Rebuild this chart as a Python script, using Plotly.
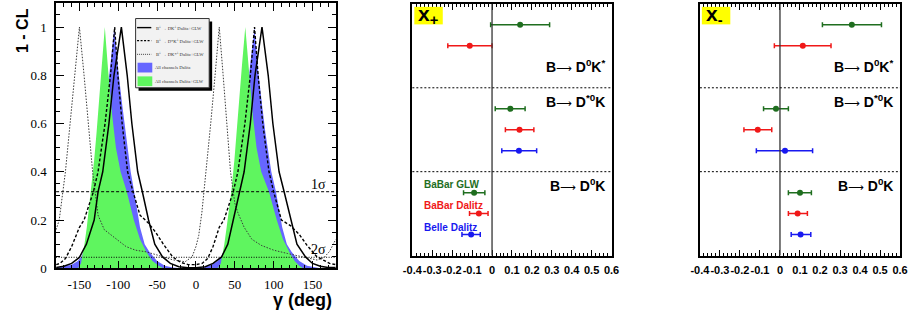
import plotly.graph_objects as go

W, H = 913, 326

# ---------------- left panel: 1-CL vs gamma ----------------
g_dk = [-180, -170, -160, -150, -141, -131, -126, -120, -112, -105.5, -96, -88.5, -82.5, -75, -69, -61, -53, -43, -33, -22, -10,
        0, 12, 22, 33, 41, 48, 56, 62, 70, 76, 85, 93, 99, 107, 113.5, 122, 130, 141, 150, 160, 170, 180]
cl_dk = [0.003, 0.008, 0.02, 0.045, 0.1, 0.2, 0.317, 0.4, 0.6, 0.8, 1.0, 0.8, 0.6, 0.4, 0.317, 0.2, 0.1, 0.047, 0.02, 0.006, 0.002,
         0.002, 0.006, 0.02, 0.047, 0.1, 0.2, 0.317, 0.4, 0.6, 0.8, 1.0, 0.8, 0.6, 0.4, 0.317, 0.2, 0.1, 0.047, 0.02, 0.008, 0.003, 0.003]

g_dsk = [-180, -175, -168, -160, -150, -144, -132, -126, -117, -110, -104.6, -100.5, -95, -88, -81, -72, -62, -52, -42, -30, -20, -10,
         0, 8, 15, 22, 30, 36, 48, 54, 63, 70, 75.4, 80, 86, 94, 100, 110, 122, 133, 143, 155, 164, 172, 180]
cl_dsk = [0.015, 0.02, 0.04, 0.09, 0.17, 0.2, 0.317, 0.4, 0.6, 0.8, 1.0, 0.8, 0.6, 0.4, 0.317, 0.22, 0.19, 0.15, 0.1, 0.047, 0.025, 0.015,
          0.015, 0.02, 0.04, 0.09, 0.17, 0.2, 0.317, 0.4, 0.6, 0.8, 1.0, 0.8, 0.6, 0.4, 0.317, 0.2, 0.176, 0.14, 0.095, 0.05, 0.034, 0.02, 0.015]

g_dks = [-180, -176, -172, -168, -162, -156, -150, -144, -138.5, -133, -126, -118, -110, -102, -90, -78, -64, -50, -43, -30, -14,
         -5, 0, 3.5, 7.6, 13, 19, 24.6, 30, 35, 39.4, 44.5, 50, 54, 62, 72, 84, 100, 118, 135, 156, 165, 172, 180]
cl_dks = [0.16, 0.2, 0.3, 0.4, 0.6, 0.8, 1.0, 0.8, 0.6, 0.4, 0.22, 0.16, 0.14, 0.12, 0.09, 0.075, 0.068, 0.055, 0.047, 0.035, 0.027,
          0.047, 0.09, 0.135, 0.23, 0.4, 0.6, 0.8, 1.0, 0.8, 0.6, 0.4, 0.27, 0.23, 0.17, 0.12, 0.095, 0.075, 0.061, 0.048, 0.034, 0.045, 0.07, 0.12]

g_all_dalitz = [-180, -170, -160, -152, -147, -141, -133, -125, -117, -111, -105, -100, -95, -90.5, -84, -79.5, -72, -66, -60, -50, -40, -30, -20,
                5, 10, 20, 28, 33, 39, 47, 55, 63, 69, 75.4, 80, 85, 89.5, 97, 103, 111, 117, 123, 133, 143, 152, 160, 180]
cl_all_dalitz = [0.003, 0.008, 0.015, 0.03, 0.05, 0.1, 0.25, 0.45, 0.65, 0.82, 1.0, 0.82, 0.68, 0.56, 0.4, 0.317, 0.17, 0.1, 0.068, 0.03, 0.01, 0.003, 0.0,
                 0.0, 0.003, 0.015, 0.03, 0.05, 0.1, 0.25, 0.45, 0.65, 0.82, 1.0, 0.82, 0.68, 0.56, 0.4, 0.317, 0.17, 0.1, 0.068, 0.03, 0.01, 0.003, 0.0, 0.0]

g_all_glw = [-180, -152, -148, -146, -143.5, -140.5, -135, -131, -128, -124.5, -120.7, -117.3, -113, -108, -103, -97, -89, -80, -72, -64, -56, -48, -42,
             28, 32, 34, 36.5, 39.5, 45.5, 49.5, 52, 55.5, 59.3, 63.5, 68, 73, 78, 84, 94, 104, 112, 120, 127, 133, 138, 180]
cl_all_glw = [0.0, 0.0, 0.02, 0.05, 0.1, 0.17, 0.317, 0.45, 0.56, 0.71, 0.845, 1.0, 0.82, 0.64, 0.5, 0.4, 0.317, 0.2, 0.12, 0.068, 0.03, 0.01, 0.0,
              0.0, 0.02, 0.05, 0.1, 0.17, 0.317, 0.45, 0.56, 0.71, 0.845, 1.0, 0.82, 0.64, 0.5, 0.4, 0.317, 0.2, 0.12, 0.068, 0.03, 0.01, 0.0, 0.0]

sigma_levels = [0.3173, 0.0455]
sigma_labels = ["1σ", "2σ"]
gamma_ticks = [-150, -100, -50, 0, 50, 100, 150]
gamma_ticktext = ["-150", "-100", "-50", "0", "50", "100", "150"]

legend_names = ["B<sup>±</sup> → DK<sup>±</sup> Dalitz+GLW", "B<sup>±</sup> → D*K<sup>±</sup> Dalitz+GLW",
                "B<sup>±</sup> → DK*<sup>±</sup> Dalitz+GLW", "All channels Dalitz", "All channels Dalitz+GLW"]

# ---------------- x+ / x- panels ----------------
ARROW = "<span style=\"font-family:'DejaVu Sans';font-weight:normal;font-size:11px\">⟶</span>"
channels = ["B" + ARROW + " D<sup>0</sup>K", "B" + ARROW + " D<sup>*0</sup>K",
            "B" + ARROW + " D<sup>0</sup>K<sup>*</sup>"]  # bottom to top
experiments = ["BaBar GLW", "BaBar Dalitz", "Belle Dalitz"]
exp_colors = ["#1f6e1f", "#f01818", "#1818f0"]

# values per experiment, ordered by channel [D0K, D*0K, D0K*]
xp_val = [[-0.090, 0.092, 0.141], [-0.066, 0.138, -0.112], [-0.105, 0.135, None]]
xp_em = [[0.053, 0.076, 0.148], [0.047, 0.071, 0.110], [0.046, 0.086, None]]
xp_ep = [[0.054, 0.074, 0.148], [0.046, 0.072, 0.112], [0.046, 0.089, None]]

xm_val = [[0.100, -0.020, 0.359], [0.088, -0.111, 0.114], [0.103, 0.025, None]]
xm_em = [[0.058, 0.062, 0.147], [0.046, 0.069, 0.142], [0.047, 0.143, None]]
xm_ep = [[0.057, 0.062, 0.148], [0.049, 0.070, 0.141], [0.051, 0.138, None]]

x_ticks = [-0.4, -0.3, -0.2, -0.1, 0, 0.1, 0.2, 0.3, 0.4, 0.5, 0.6]
x_ticktext = ["-0.4", "-0.3", "-0.2", "-0.1", "0", "0.1", "0.2", "0.3", "0.4", "0.5", "0.6"]

SERIF = "Liberation Serif"
SANS = "Liberation Sans"


def px(x):
    return x / W


def py(y):
    return 1 - y / H


fig = go.Figure()

# fills
fig.add_trace(go.Scatter(x=g_all_dalitz, y=cl_all_dalitz, mode="lines", fill="tozeroy",
                         fillcolor="#6666ff", line=dict(width=0, color="#6666ff"),
                         xaxis="x", yaxis="y", showlegend=False, hoverinfo="skip"))
fig.add_trace(go.Scatter(x=g_all_glw, y=cl_all_glw, mode="lines", fill="tozeroy",
                         fillcolor="#5ff55f", line=dict(width=0, color="#5ff55f"),
                         xaxis="x", yaxis="y", showlegend=False, hoverinfo="skip"))
# curves
fig.add_trace(go.Scatter(x=g_dks, y=cl_dks, mode="lines", line=dict(width=1, color="#3a3a3a", dash="1.5px,1.5px"),
                         xaxis="x", yaxis="y", showlegend=False, hoverinfo="skip"))
fig.add_trace(go.Scatter(x=g_dsk, y=cl_dsk, mode="lines", line=dict(width=1.4, color="black", dash="3px,2px"),
                         xaxis="x", yaxis="y", showlegend=False, hoverinfo="skip"))
fig.add_trace(go.Scatter(x=g_dk, y=cl_dk, mode="lines", line=dict(width=1.5, color="black"),
                         xaxis="x", yaxis="y", showlegend=False, hoverinfo="skip"))

# error-bar panels
panels = [("x2", "y2", xp_val, xp_em, xp_ep), ("x3", "y3", xm_val, xm_em, xm_ep)]
for xa, ya, vals, ems, eps in panels:
    for ei, name in enumerate(experiments):
        xs, ys, em, ep = [], [], [], []
        for ci in range(len(channels)):
            v = vals[ei][ci]
            if v is None:
                continue
            xs.append(v)
            ys.append(4 * ci + 3 - ei)
            em.append(ems[ei][ci])
            ep.append(eps[ei][ci])
        fig.add_trace(go.Scatter(
            x=xs, y=ys, mode="markers", xaxis=xa, yaxis=ya, showlegend=False,
            marker=dict(symbol="circle", size=6, color=exp_colors[ei]),
            error_x=dict(type="data", symmetric=False, array=ep, arrayminus=em,
                         color=exp_colors[ei], thickness=1.5, width=2.5)))

shapes = []
annotations = []

# sigma lines
for lvl, dash in zip(sigma_levels, ["3px,2px", "1px,1.5px"]):
    shapes.append(dict(type="line", xref="x domain", yref="y", x0=0, x1=1, y0=lvl, y1=lvl,
                       line=dict(color="black", width=1, dash=dash)))
for lvl, lab in zip(sigma_levels, sigma_labels):
    annotations.append(dict(xref="x", yref="y", x=146, y=lvl, text=lab, showarrow=False,
                            xanchor="left", yanchor="bottom", yshift=-2,
                            font=dict(family=SERIF, size=14, color="black")))

# left legend (manual)
shapes.append(dict(type="rect", xref="paper", yref="paper", x0=px(132), x1=px(207), y0=py(93), y1=py(22),
                   fillcolor="black", line=dict(width=0), layer="above"))
shapes.append(dict(type="rect", xref="paper", yref="paper", x0=px(129), x1=px(204), y0=py(90), y1=py(19),
                   fillcolor="#f2f2f2", line=dict(width=1, color="#333333"), layer="above"))
row_y = [28.3, 41.7, 55.7, 69.3, 83.3]
line_styles = [dict(color="black", width=1.4), dict(color="black", width=1.2, dash="2px,1.5px"),
               dict(color="#444444", width=1, dash="1px,1px")]
for i in range(3):
    shapes.append(dict(type="line", xref="paper", yref="paper", x0=px(130.5), x1=px(145), y0=py(row_y[i]), y1=py(row_y[i]),
                       line=line_styles[i], layer="above"))
for i, col in zip([3, 4], ["#6666ff", "#5ff55f"]):
    shapes.append(dict(type="rect", xref="paper", yref="paper", x0=px(131), x1=px(146), y0=py(row_y[i] + 5), y1=py(row_y[i] - 5),
                       fillcolor=col, line=dict(width=0), layer="above"))
for i, name in enumerate(legend_names):
    annotations.append(dict(xref="paper", yref="paper", x=px(148 if i < 3 else 147), y=py(row_y[i]), text=name,
                            showarrow=False, xanchor="left", yanchor="middle",
                            font=dict(family=SERIF, size=4.6, color="#333333")))

# axis titles (left)
annotations.append(dict(xref="paper", yref="paper", x=px(13), y=py(31), text="<b>1 - CL</b>", textangle=-90,
                        showarrow=False, xanchor="center", yanchor="middle",
                        font=dict(family=SANS, size=16, color="black")))
annotations.append(dict(xref="paper", yref="paper", x=px(331), y=py(320), text="<b>γ (deg)</b>",
                        showarrow=False, xanchor="right", yanchor="bottom",
                        font=dict(family=SANS, size=18, color="black")))

# x+/x- panel decorations
for xa, ya, box_x0, lab in [("x2", "y2", 413, "x<sub>+</sub>"), ("x3", "y3", 706, "x<sub>-</sub>")]:
    shapes.append(dict(type="line", xref=xa, yref=ya + " domain", x0=0, x1=0, y0=0, y1=1,
                       line=dict(color="#333333", width=1.3)))
    for yl in [4, 8]:
        shapes.append(dict(type="line", xref=xa + " domain", yref=ya, x0=0, x1=1, y0=yl, y1=yl,
                           line=dict(color="black", width=1, dash="2px,2px")))
    shapes.append(dict(type="rect", xref="paper", yref="paper", x0=px(box_x0), x1=px(box_x0 + 29),
                       y0=py(25), y1=py(7), fillcolor="#ffff00", line=dict(width=0)))
    annotations.append(dict(xref="paper", yref="paper", x=px(box_x0 + 2), y=py(15), text="<b>" + lab + "</b>",
                            showarrow=False, xanchor="left", yanchor="middle",
                            font=dict(family=SANS, size=21, color="black")))
    for ci, ch in enumerate(channels):
        ypos = [3.35, 7.38, 9.02][ci]
        annotations.append(dict(xref=xa, yref=ya, x=0.575, y=ypos, text="<b>" + ch + "</b>",
                                showarrow=False, xanchor="right", yanchor="middle",
                                font=dict(family=SANS, size=14, color="black")))

# experiment legend (middle panel)
for ei, name in enumerate(experiments):
    annotations.append(dict(xref="x2", yref="y2", x=-0.35, y=3.4 - ei * 1.02, text="<b>" + name + "</b>",
                            showarrow=False, xanchor="left", yanchor="middle",
                            font=dict(family=SANS, size=10, color=exp_colors[ei])))

common_frame = dict(showline=True, linecolor="black", showgrid=False, zeroline=False)

fig.update_layout(
    width=W, height=H, autosize=False,
    margin=dict(l=0, r=0, t=0, b=0),
    paper_bgcolor="white", plot_bgcolor="white",
    showlegend=False,
    xaxis=dict(domain=[px(48), px(333)], range=[-180, 180], anchor="y", linewidth=1.5, mirror="ticks",
               ticks="inside", ticklen=8, tickwidth=1, tickcolor="black",
               tickmode="array", tickvals=gamma_ticks, ticktext=gamma_ticktext,
               minor=dict(ticks="inside", dtick=10, tick0=0, ticklen=4, tickwidth=1, tickcolor="black"),
               tickfont=dict(family=SERIF, size=13, color="black"), ticklabelstandoff=3, **common_frame),
    yaxis=dict(domain=[py(275), py(3)], range=[0, 1.1], anchor="x", linewidth=1.5, mirror="ticks",
               ticks="inside", ticklen=8, tickwidth=1, tickcolor="black", dtick=0.2, tick0=0,
               minor=dict(ticks="inside", dtick=0.05, tick0=0, ticklen=4, tickwidth=1, tickcolor="black"),
               tickfont=dict(family=SERIF, size=13, color="black"), ticklabelstandoff=5, **common_frame),
    xaxis2=dict(domain=[px(411), px(614)], range=[-0.4, 0.6], anchor="y2", linewidth=2, mirror="ticks",
                ticks="inside", ticklen=6, tickwidth=1, tickcolor="black",
                tickmode="array", tickvals=x_ticks, ticktext=x_ticktext, tickangle=0,
                minor=dict(ticks="inside", dtick=0.02, tick0=0, ticklen=3, tickwidth=1, tickcolor="black"),
                tickfont=dict(family=SANS, size=11, color="black", weight="bold"), ticklabelstandoff=3, **common_frame),
    yaxis2=dict(domain=[py(262), py(4)], range=[0, 12], anchor="x2", linewidth=2, mirror=True,
                showticklabels=False, ticks="", **common_frame),
    xaxis3=dict(domain=[px(704), px(908)], range=[-0.4, 0.6], anchor="y3", linewidth=2, mirror="ticks",
                ticks="inside", ticklen=6, tickwidth=1, tickcolor="black",
                tickmode="array", tickvals=x_ticks, ticktext=x_ticktext, tickangle=0,
                minor=dict(ticks="inside", dtick=0.02, tick0=0, ticklen=3, tickwidth=1, tickcolor="black"),
                tickfont=dict(family=SANS, size=11, color="black", weight="bold"), ticklabelstandoff=3, **common_frame),
    yaxis3=dict(domain=[py(262), py(4)], range=[0, 12], anchor="x3", linewidth=2, mirror=True,
                showticklabels=False, ticks="", **common_frame),
    shapes=shapes,
    annotations=annotations,
)

fig.write_html("out.html", config={"displayModeBar": False},
               post_script="document.body.style.margin='0';document.body.style.overflow='hidden';")
